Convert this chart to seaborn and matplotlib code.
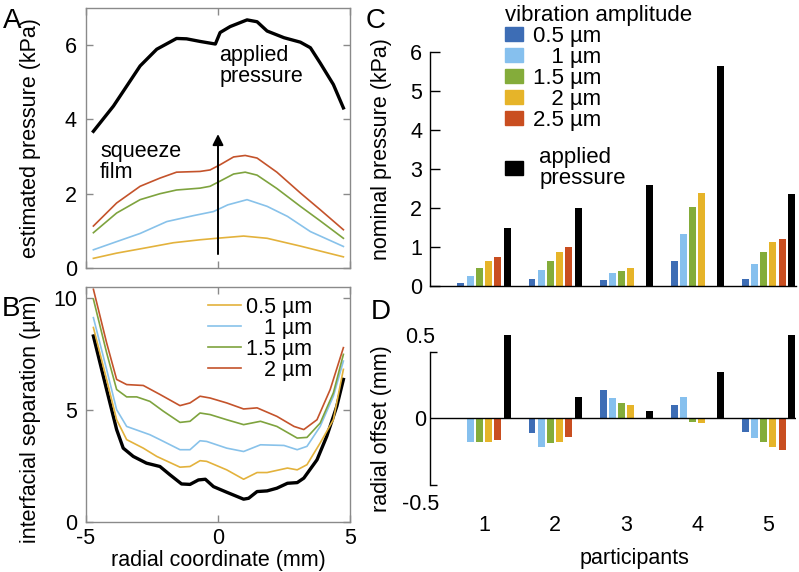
import matplotlib
matplotlib.use("Agg")
import matplotlib.pyplot as plt
from matplotlib.patches import Patch
import seaborn as sns
import pandas as pd

# panel A: estimated pressure (kPa) along radial coordinate (mm)
a_applied_x = [-4.72, -3.96, -2.95, -2.32, -1.57, -1.19, -0.68, -0.1, 0.08, 0.46, 1.1, 1.48, 1.86, 2.5, 3.12, 3.5, 3.87, 4.37, 4.75]
a_applied_y = [3.68, 4.36, 5.44, 5.89, 6.18, 6.17, 6.1, 6.03, 6.34, 6.5, 6.68, 6.63, 6.38, 6.2, 6.08, 5.93, 5.52, 4.94, 4.31]
a_red_x = [-4.72, -3.84, -2.95, -2.2, -1.57, -0.68, -0.3, 0.08, 0.59, 1.03, 1.48, 2.23, 3.12, 3.87, 4.75]
a_red_y = [1.13, 1.75, 2.2, 2.42, 2.58, 2.6, 2.64, 2.78, 2.99, 3.03, 2.96, 2.58, 2.02, 1.57, 1.03]
a_green_x = [-4.72, -3.84, -2.95, -2.2, -1.57, -0.68, -0.3, 0.08, 0.59, 1.03, 1.48, 2.23, 3.12, 3.87, 4.75]
a_green_y = [0.95, 1.48, 1.84, 2.0, 2.1, 2.15, 2.2, 2.34, 2.53, 2.58, 2.5, 2.14, 1.66, 1.27, 0.8]
a_lblue_x = [-4.72, -3.84, -2.95, -1.94, -0.93, -0.17, 0.37, 1.1, 1.86, 2.63, 3.5, 4.75]
a_lblue_y = [0.49, 0.71, 0.93, 1.25, 1.41, 1.52, 1.7, 1.84, 1.66, 1.39, 0.98, 0.58]
a_yellow_x = [-4.72, -3.84, -2.83, -1.69, -0.68, -0.05, 0.97, 1.86, 3.12, 4.75]
a_yellow_y = [0.26, 0.4, 0.53, 0.68, 0.76, 0.8, 0.86, 0.8, 0.59, 0.3]

# panel B: interfacial separation (um)
b_black_x = [-4.72, -4.22, -3.84, -3.59, -3.21, -2.71, -2.2, -1.82, -1.38, -1.06, -0.74, -0.48, -0.17, 0.33, 0.97, 1.16, 1.48, 1.86, 2.23, 2.63, 3.0, 3.25, 3.75, 4.12, 4.5, 4.75]
b_black_y = [8.31, 5.92, 4.13, 3.3, 2.93, 2.63, 2.48, 2.11, 1.7, 1.68, 1.88, 1.91, 1.58, 1.33, 1.02, 1.06, 1.36, 1.39, 1.51, 1.73, 1.76, 1.96, 2.78, 3.83, 5.17, 6.37]
b_yellow_x = [-4.72, -4.22, -3.84, -3.46, -2.83, -2.32, -1.44, -1.06, -0.68, -0.43, 0.33, 0.97, 1.48, 1.86, 2.63, 3.0, 3.37, 3.87, 4.37, 4.75]
b_yellow_y = [8.69, 6.37, 4.57, 3.68, 3.3, 2.93, 2.45, 2.48, 2.74, 2.71, 2.33, 1.91, 2.21, 2.21, 2.41, 2.33, 2.56, 3.53, 4.57, 6.82]
b_lblue_x = [-4.72, -4.22, -3.84, -3.46, -2.58, -2.2, -1.44, -1.06, -0.68, -0.43, 0.33, 0.97, 1.61, 2.5, 3.0, 3.37, 3.87, 4.37, 4.75]
b_lblue_y = [9.13, 6.82, 5.02, 4.27, 3.9, 3.68, 3.23, 3.23, 3.63, 3.6, 3.3, 3.15, 3.45, 3.42, 3.23, 3.38, 4.27, 5.62, 7.19]
b_green_x = [-4.72, -4.22, -3.84, -3.46, -3.08, -2.58, -2.07, -1.44, -1.06, -0.68, -0.3, 0.33, 0.97, 1.61, 2.23, 3.0, 3.37, 3.87, 4.37, 4.75]
b_green_y = [9.96, 7.57, 5.92, 5.59, 5.59, 5.39, 4.95, 4.45, 4.5, 4.87, 4.8, 4.57, 4.35, 4.5, 4.27, 3.75, 3.78, 4.42, 5.77, 7.49]
b_red_x = [-4.72, -4.22, -3.84, -3.46, -2.83, -2.2, -1.44, -1.06, -0.68, -0.3, 0.33, 0.97, 1.48, 2.23, 2.88, 3.25, 3.75, 4.25, 4.75]
b_red_y = [10.4, 8.01, 6.37, 6.14, 6.1, 5.7, 5.2, 5.32, 5.62, 5.54, 5.32, 5.05, 5.1, 4.72, 4.27, 4.13, 4.57, 5.92, 7.79]
b_labels = ["0.5 µm", "   1 µm", "1.5 µm", "   2 µm"]

# panels C and D: per participant
participants = ["1", "2", "3", "4", "5"]
series = ["0.5", "1", "1.5", "2", "2.5", "applied"]
series_labels = ["0.5 µm", "   1 µm", "1.5 µm", "   2 µm", "2.5 µm", "applied\npressure"]
nominal = {
    "0.5": [0.07, 0.18, 0.15, 0.64, 0.18],
    "1": [0.26, 0.4, 0.33, 1.33, 0.56],
    "1.5": [0.45, 0.64, 0.39, 2.02, 0.88],
    "2": [0.64, 0.86, 0.45, 2.38, 1.12],
    "2.5": [0.74, 0.99, None, None, 1.2],
    "applied": [1.5, 1.99, 2.59, 5.64, 2.37],
}
offset = {
    "0.5": [None, -0.09, 0.17, 0.08, -0.08],
    "1": [-0.14, -0.17, 0.12, 0.13, -0.12],
    "1.5": [-0.14, -0.15, 0.09, -0.02, -0.14],
    "2": [-0.14, -0.14, 0.08, -0.03, -0.17],
    "2.5": [-0.13, -0.11, None, None, -0.19],
    "applied": [0.5, 0.13, 0.045, 0.28, 0.5],
}

bar_colors = ["#3d6db5", "#86c0ee", "#84ac3a", "#e6b429", "#c94e20", "#000000"]
line_colors = {"yellow": "#e3b23c", "lblue": "#88c2ea", "green": "#7ea33e", "red": "#c4532b"}

plt.rcParams["font.family"] = ["Liberation Sans", "DejaVu Sans"]
plt.rcParams["font.size"] = 15.5
plt.rcParams["axes.unicode_minus"] = False
FS = 15.5

W, H = 799, 572
fig = plt.figure(figsize=(W / 100, H / 100), dpi=100)


def px_axes(left, top, right, bottom):
    return fig.add_axes([left / W, 1 - bottom / H, (right - left) / W, (bottom - top) / H])


gray = "#8a8a8a"


def box_style(ax):
    for s in ax.spines.values():
        s.set_color(gray)
        s.set_linewidth(1.0)
    ax.tick_params(direction="in", top=True, right=True, color=gray, labelcolor="black",
                   length=5, width=1, labelsize=FS, pad=6.5)


# ---- panel A ----
axA = px_axes(86, 8, 350, 268)
sns.lineplot(x=a_applied_x, y=a_applied_y, color="black", lw=2.4, ax=axA)
sns.lineplot(x=a_red_x, y=a_red_y, color=line_colors["red"], lw=1.2, ax=axA)
sns.lineplot(x=a_green_x, y=a_green_y, color=line_colors["green"], lw=1.2, ax=axA)
sns.lineplot(x=a_lblue_x, y=a_lblue_y, color=line_colors["lblue"], lw=1.2, ax=axA)
sns.lineplot(x=a_yellow_x, y=a_yellow_y, color=line_colors["yellow"], lw=1.2, ax=axA)
axA.annotate("", xy=(0, 3.68), xytext=(0, 0.3),
             arrowprops=dict(arrowstyle="-|>", color="black", lw=1.4, mutation_scale=16))
axA.text(-4.47, 3.42, "squeeze\nfilm", ha="left", va="top", fontsize=FS, linespacing=1.0)
axA.text(0.05, 6.0, "applied\npressure", ha="left", va="top", fontsize=FS, linespacing=1.0)
axA.set_xlim(-5, 5)
axA.set_ylim(0, 7)
axA.set_xticks([-5, 0, 5])
axA.set_xticklabels([])
axA.set_yticks([0, 2, 4, 6])
axA.set_xlabel("")
axA.set_ylabel("estimated pressure (kPa)", fontsize=FS)
box_style(axA)
axA.yaxis.set_label_coords(-0.17, 0.5)

# ---- panel B ----
axB = px_axes(86, 287, 350, 522)
sns.lineplot(x=b_black_x, y=b_black_y, color="black", lw=2.4, ax=axB)
hB = []
for xs, ys, c in [(b_yellow_x, b_yellow_y, "yellow"), (b_lblue_x, b_lblue_y, "lblue"),
                  (b_green_x, b_green_y, "green"), (b_red_x, b_red_y, "red")]:
    sns.lineplot(x=xs, y=ys, color=line_colors[c], lw=1.2, ax=axB)
    hB.append(axB.lines[-1])
axB.legend(hB, b_labels, loc="upper right", bbox_to_anchor=(312 / W, 1 - 297 / H),
           bbox_transform=fig.transFigure, frameon=False, borderpad=0, borderaxespad=0,
           handlelength=1.55, handletextpad=0.2, labelspacing=0.0, fontsize=FS)
axB.set_xlim(-5, 5)
axB.set_ylim(0, 10.5)
axB.set_xticks([-5, 0, 5])
axB.set_yticks([0, 5, 10])
axB.set_xlabel("radial coordinate (mm)", fontsize=FS)
axB.set_ylabel("interfacial separation (µm)", fontsize=FS)
box_style(axB)
axB.tick_params(axis="x", pad=4)
axB.xaxis.set_label_coords(0.5, -0.118)
axB.yaxis.set_label_coords(-0.17, 0.44)


def long_frame(table):
    rows = []
    for s in series:
        for p, v in zip(participants, table[s]):
            if v is not None:
                rows.append({"participant": p, "series": s, "value": v})
    return pd.DataFrame(rows)


bar_kw = dict(x="participant", y="value", hue="series", hue_order=series, order=participants,
              palette=bar_colors, width=0.78, gap=0.25, saturation=1, errorbar=None,
              legend=False, linewidth=0)

# ---- panel C ----
axC = px_axes(430, 13, 796, 286)
sns.barplot(data=long_frame(nominal), ax=axC, **bar_kw)
axC.set_xlim(-0.76, 4.39)
axC.set_ylim(0, 7)
axC.set_yticks(range(7))
axC.set_xticks([])
axC.set_xlabel("")
axC.set_ylabel("nominal pressure (kPa)", fontsize=FS)
axC.yaxis.set_label_coords(-0.105, 0.5)
for s in ["top", "right"]:
    axC.spines[s].set_visible(False)
axC.spines["left"].set_bounds(0, 6)
for s in ["left", "bottom"]:
    axC.spines[s].set_color("black")
    axC.spines[s].set_linewidth(1.0)
axC.tick_params(axis="y", direction="in", length=7, width=1, labelsize=FS, pad=5.5)

leg1 = axC.legend([Patch(color=c) for c in bar_colors[:5]], series_labels[:5],
                  title="vibration amplitude", title_fontsize=16, alignment="left",
                  loc="upper left", bbox_to_anchor=(505 / W, 1 - 5 / H),
                  bbox_transform=fig.transFigure, frameon=False, borderpad=0, borderaxespad=0,
                  handlelength=0.8, handleheight=0.55, handletextpad=0.45, labelspacing=0.0,
                  fontsize=16)
axC.add_artist(leg1)
axC.legend([Patch(color="black")], [series_labels[5]], loc="upper left",
           bbox_to_anchor=(505 / W, 1 - 147 / H), bbox_transform=fig.transFigure,
           frameon=False, borderpad=0, borderaxespad=0, handlelength=0.8, handleheight=0.55,
           handletextpad=0.75, fontsize=16)
for t in axC.get_legend().get_texts():
    t.set_linespacing(1.0)

# ---- panel D ----
axD = px_axes(430, 335, 796, 505)
sns.barplot(data=long_frame(offset), ax=axD, **bar_kw)
axD.axhline(0, color="black", lw=1.0)
axD.set_xlim(-0.76, 4.39)
axD.set_ylim(-0.52, 0.5)
axD.set_yticks([-0.5, 0, 0.5])
axD.set_yticklabels(["-0.5", "0", "0.5"])
axD.set_yticks([-0.4, 0.4], minor=True)
for s in ["top", "right", "bottom"]:
    axD.spines[s].set_visible(False)
axD.spines["left"].set_bounds(-0.4, 0.4)
axD.spines["left"].set_linewidth(1.0)
axD.tick_params(axis="y", which="major", length=0, labelsize=FS, pad=7)
axD.tick_params(axis="y", which="minor", direction="in", length=5, width=1)
for lab in axD.get_yticklabels():
    lab.set_horizontalalignment("center")
axD.tick_params(axis="x", length=0, labelsize=FS, pad=7)
axD.set_xlabel("participants", fontsize=FS)
axD.xaxis.set_label_coords(0.56, -0.255)
axD.set_ylabel("radial offset (mm)", fontsize=FS)
axD.yaxis.set_label_coords(-0.105, 0.45)

# panel letters
for letter, x, y in [("A", 12, 21), ("B", 11, 309), ("C", 376, 21), ("D", 381, 312)]:
    fig.text(x / W, 1 - y / H, letter, fontsize=20, ha="center", va="center")

fig.savefig("out.png", dpi=100)
